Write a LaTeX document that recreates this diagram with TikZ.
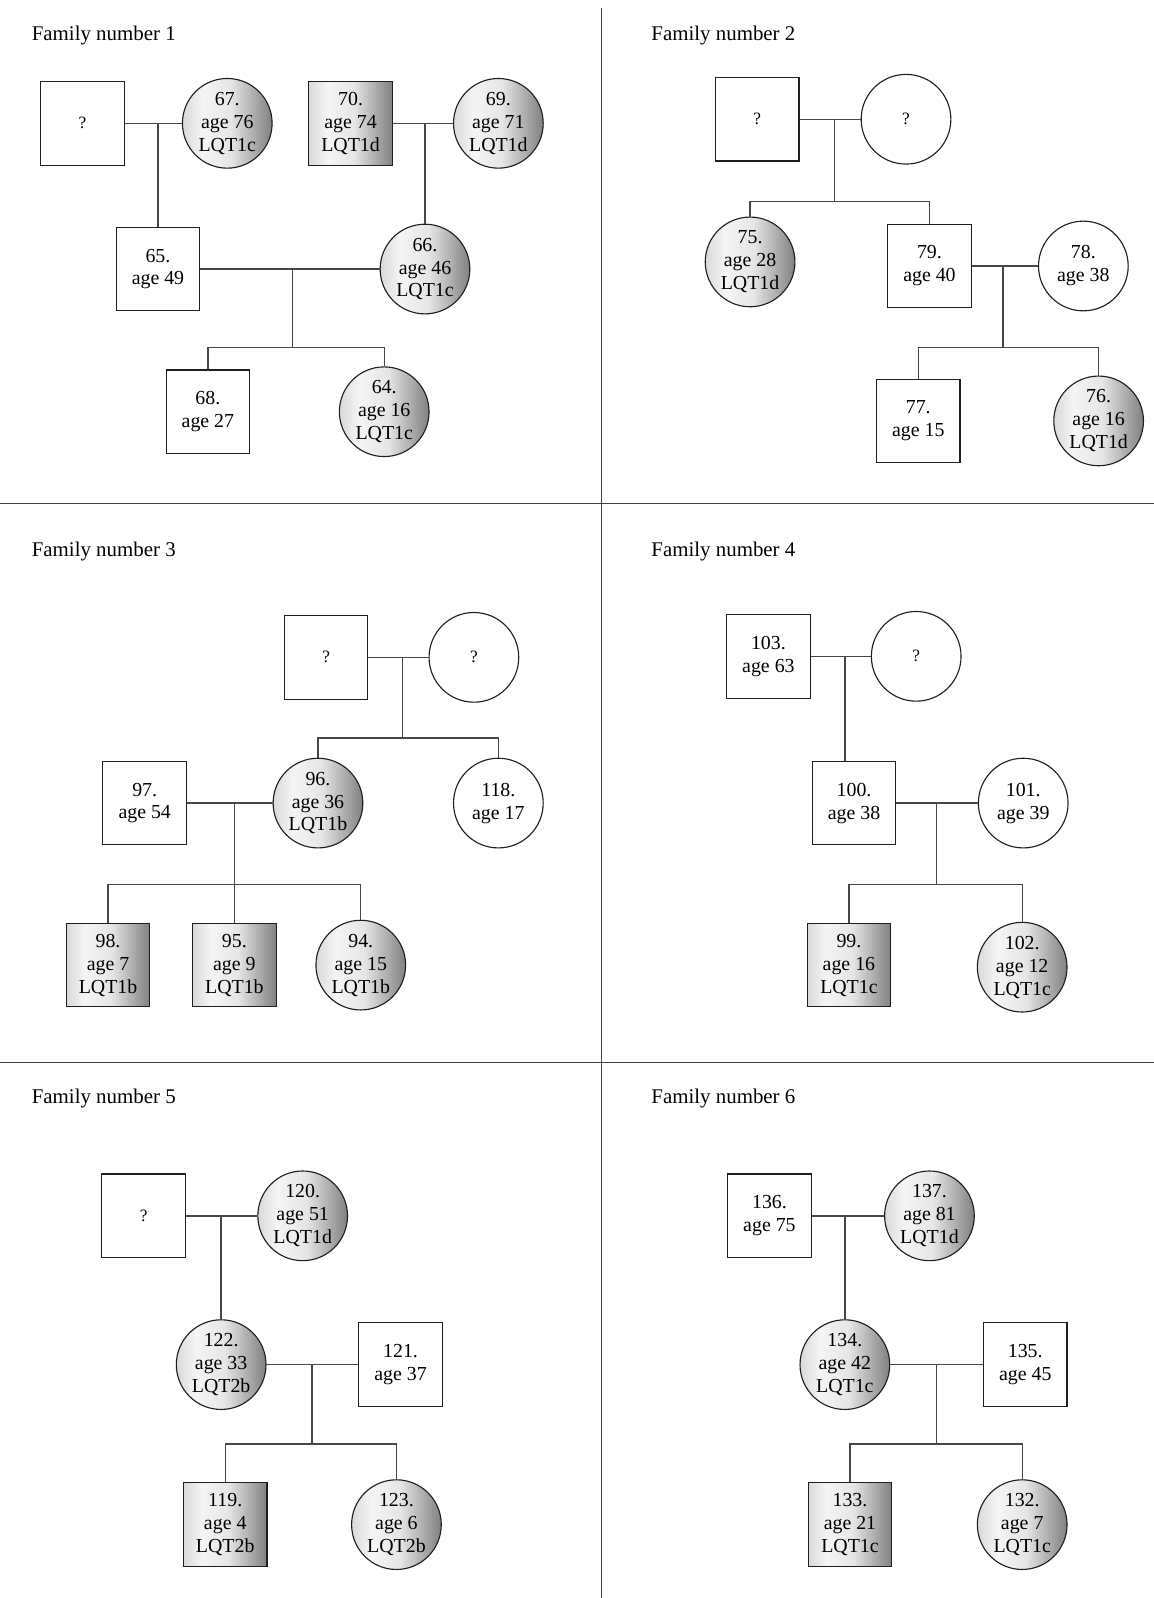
\documentclass[tikz,border=0pt]{standalone}
\usepackage{fontspec}
\setmainfont{Liberation Serif}
\usetikzlibrary{shapes.geometric}
\newcommand\pednodefont{\fontsize{19.5}{22.5}\selectfont}
\newcommand\pedtitlefont{\fontsize{20.5}{24}\selectfont}
\newcommand\pedqfont{\fontsize{17}{20}\selectfont}
\pgfdeclarehorizontalshading{pedshade}{100bp}{color(0bp)=(black!15); color(25bp)=(black!15); color(36bp)=(black!4); color(52bp)=(black!10); color(75bp)=(black!50); color(100bp)=(black!50)}
\tikzset{
  sq/.style={draw=black!88, line width=1.1pt, rectangle, minimum width=82pt, minimum height=82pt, inner sep=0pt, align=center, font=\pednodefont},
  ci/.style={draw=black!88, line width=1.1pt, ellipse, minimum width=88pt, minimum height=88pt, inner sep=0pt, align=center, font=\pednodefont},
  aff/.style={shading=pedshade},
  qm/.style={font=\pedqfont},
  lnk/.style={draw=black!72, line width=1.3pt},
  ftitle/.style={anchor=base west, font=\pedtitlefont, inner sep=0pt},
  divider/.style={draw=black!75, line width=1pt}
}
\begin{document}
\begin{tikzpicture}[x=1pt,y=-1pt]
\fill[white] (0,0) rectangle (1132,1568);
\useasboundingbox (0,0) rectangle (1132,1568);
% dividers
\draw[divider] (590,8) -- (590,1568);
\draw[divider] (0,494) -- (1132,494);
\draw[divider] (0,1043) -- (1132,1043);

% ---------- Family 1
\node[ftitle] (t1) at (31,40) {Family number 1};
\node[sq,qm] (f1a) at (81,121) {?};
\node[ci,aff] (n67) at (223,121) {67.\\age 76\\LQT1c};
\node[sq,aff] (n70) at (344,121) {70.\\age 74\\LQT1d};
\node[ci,aff] (n69) at (489,121) {69.\\age 71\\LQT1d};
\node[sq] (n65) at (155,264) {65.\\age 49};
\node[ci,aff] (n66) at (417,264) {66.\\age 46\\LQT1c};
\node[sq] (n68) at (204,404) {68.\\age 27};
\node[ci,aff] (n64) at (377,404) {64.\\age 16\\LQT1c};
\coordinate (m1) at (155,121);
\coordinate (m2) at (417,121);
\coordinate (m3) at (287,264);
\coordinate (s3) at (287,341);
\draw[lnk] (f1a) -- (n67);
\draw[lnk] (m1) -- (n65);
\draw[lnk] (n70) -- (n69);
\draw[lnk] (m2) -- (n66);
\draw[lnk] (n65) -- (n66);
\draw[lnk] (m3) -- (s3);
\draw[lnk] (n68.north) |- (s3) -| (n64.north);

% ---------- Family 2
\node[ftitle] (t2) at (639,40) {Family number 2};
\node[sq,qm] (f2a) at (743,117) {?};
\node[ci,qm] (f2b) at (889,117) {?};
\node[ci,aff] (n75) at (736,257) {75.\\age 28\\LQT1d};
\node[sq] (n79) at (912,261) {79.\\age 40};
\node[ci] (n78) at (1063,261) {78.\\age 38};
\node[sq] (n77) at (901,413) {77.\\age 15};
\node[ci,aff] (n76) at (1078,413) {76.\\age 16\\LQT1d};
\coordinate (m4) at (819,117);
\coordinate (s4) at (819,198);
\coordinate (m5) at (984,261);
\coordinate (s5) at (984,341);
\draw[lnk] (f2a) -- (f2b);
\draw[lnk] (m4) -- (s4);
\draw[lnk] (n75.north) |- (s4) -| (n79.north);
\draw[lnk] (n79) -- (n78);
\draw[lnk] (m5) -- (s5);
\draw[lnk] (n77.north) |- (s5) -| (n76.north);

% ---------- Family 3
\node[ftitle] (t3) at (31,546) {Family number 3};
\node[sq,qm] (f3a) at (320,645) {?};
\node[ci,qm] (f3b) at (465,645) {?};
\node[ci,aff] (n96) at (312,788) {96.\\age 36\\LQT1b};
\node[ci] (n118) at (489,788) {118.\\age 17};
\node[sq] (n97) at (142,788) {97.\\age 54};
\node[sq,aff] (n98) at (106,947) {98.\\age 7\\LQT1b};
\node[sq,aff] (n95) at (230,947) {95.\\age 9\\LQT1b};
\node[ci,aff] (n94) at (354,947) {94.\\age 15\\LQT1b};
\coordinate (m6) at (395,645);
\coordinate (s6) at (395,724);
\coordinate (m7) at (230,788);
\coordinate (s7) at (230,868);
\draw[lnk] (f3a) -- (f3b);
\draw[lnk] (m6) -- (s6);
\draw[lnk] (n96.north) |- (s6) -| (n118.north);
\draw[lnk] (n97) -- (n96);
\draw[lnk] (m7) -- (n95);
\draw[lnk] (n98.north) |- (s7) -| (n94.north);

% ---------- Family 4
\node[ftitle] (t4) at (639,546) {Family number 4};
\node[sq] (n103) at (754,644) {103.\\age 63};
\node[ci,qm] (f4b) at (899,644) {?};
\node[sq] (n100) at (838,788) {100.\\age 38};
\node[ci] (n101) at (1004,788) {101.\\age 39};
\node[sq,aff] (n99) at (833,947) {99.\\age 16\\LQT1c};
\node[ci,aff] (n102) at (1003,949) {102.\\age 12\\LQT1c};
\coordinate (m8) at (829,644);
\coordinate (m9) at (919,788);
\coordinate (s9) at (919,868);
\draw[lnk] (n103) -- (f4b);
\draw[lnk] (m8) -- (m8 |- n100.north);
\draw[lnk] (n100) -- (n101);
\draw[lnk] (m9) -- (s9);
\draw[lnk] (n99.north) |- (s9) -| (n102.north);

% ---------- Family 5
\node[ftitle] (t5) at (31,1083) {Family number 5};
\node[sq,qm] (f5a) at (141,1193) {?};
\node[ci,aff] (n120) at (297,1193) {120.\\age 51\\LQT1d};
\node[ci,aff] (n122) at (217,1339) {122.\\age 33\\LQT2b};
\node[sq] (n121) at (393,1339) {121.\\age 37};
\node[sq,aff] (n119) at (221,1496) {119.\\age 4\\LQT2b};
\node[ci,aff] (n123) at (389,1496) {123.\\age 6\\LQT2b};
\coordinate (m10) at (217,1193);
\coordinate (m11) at (306,1339);
\coordinate (s11) at (306,1417);
\draw[lnk] (f5a) -- (n120);
\draw[lnk] (m10) -- (n122);
\draw[lnk] (n122) -- (n121);
\draw[lnk] (m11) -- (s11);
\draw[lnk] (n119.north) |- (s11) -| (n123.north);

% ---------- Family 6
\node[ftitle] (t6) at (639,1083) {Family number 6};
\node[sq] (n136) at (755,1193) {136.\\age 75};
\node[ci,aff] (n137) at (912,1193) {137.\\age 81\\LQT1d};
\node[ci,aff] (n134) at (829,1339) {134.\\age 42\\LQT1c};
\node[sq] (n135) at (1006,1339) {135.\\age 45};
\node[sq,aff] (n133) at (834,1496) {133.\\age 21\\LQT1c};
\node[ci,aff] (n132) at (1003,1496) {132.\\age 7\\LQT1c};
\coordinate (m12) at (829,1193);
\coordinate (m13) at (919,1339);
\coordinate (s13) at (919,1417);
\draw[lnk] (n136) -- (n137);
\draw[lnk] (m12) -- (n134);
\draw[lnk] (n134) -- (n135);
\draw[lnk] (m13) -- (s13);
\draw[lnk] (n133.north) |- (s13) -| (n132.north);
\end{tikzpicture}
\end{document}
